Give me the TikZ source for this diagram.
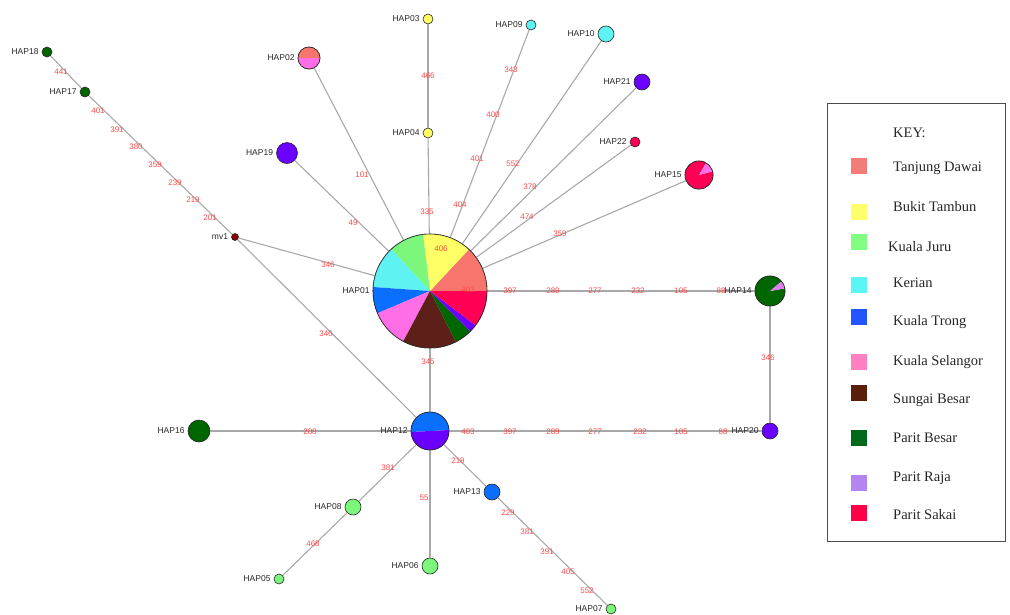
\documentclass[tikz,border=0pt]{standalone}
\usepackage{fontspec}
\setmainfont{Liberation Serif}
\setsansfont{Liberation Sans}
\definecolor{edgegray}{HTML}{A8A8A8}
\definecolor{mutred}{HTML}{FF4A4A}
\definecolor{csalmon}{HTML}{F8756E}
\definecolor{cyellow}{HTML}{FFFF66}
\definecolor{cgreen}{HTML}{7CF77C}
\definecolor{ccyan}{HTML}{5EF2F2}
\definecolor{cblue}{HTML}{0A6EFF}
\definecolor{cpink}{HTML}{FF6EE6}
\definecolor{cbrown}{HTML}{5C2018}
\definecolor{cdgreen}{HTML}{006600}
\definecolor{cviolet}{HTML}{6A00FF}
\definecolor{ccrimson}{HTML}{FF0055}
\definecolor{cmv}{HTML}{8B0000}
\definecolor{cpv}{HTML}{E080F0}
\definecolor{kSalmon}{HTML}{F47C78}
\definecolor{kYellow}{HTML}{FFFF6A}
\definecolor{kGreen}{HTML}{80FF80}
\definecolor{kCyan}{HTML}{5AF5F5}
\definecolor{kBlue}{HTML}{2255FF}
\definecolor{kPink}{HTML}{FF80C0}
\definecolor{kBrown}{HTML}{5A1E0A}
\definecolor{kDgreen}{HTML}{006A1A}
\definecolor{kLav}{HTML}{B484F0}
\definecolor{kCrimson}{HTML}{FF0048}
\newcommand\pslice[5]{\fill[#5] (#1.center) -- ++(#3:#2) arc[start angle=#3, end angle=#4, radius=#2] -- cycle;}
\begin{document}
\begin{tikzpicture}[x=1pt,y=1pt,
  edge/.style={draw=edgegray, line width=1.1pt},
  hap/.style={circle, draw=black!85, line width=0.6pt, inner sep=0pt, minimum size=#1},
  lab/.style={font=\sffamily\fontsize{8.5}{9}\selectfont, text=black!85, inner sep=1pt, anchor=east, xshift=-2pt},
  mut/.style={font=\sffamily\fontsize{8}{9}\selectfont, text=mutred, inner sep=0pt},
  keysq/.style={minimum size=16pt, inner sep=0pt},
  keytxt/.style={font=\fontsize{14.5}{16}\selectfont, anchor=west, inner sep=0pt, text=black!85}]
\useasboundingbox (0,0) rectangle (1010,-614);
% nodes
\node[hap=114pt] (HAP01) at (430,-291) {};
\node[hap=22pt] (HAP02) at (309,-58) {};
\node[hap=10pt, fill=cyellow] (HAP03) at (428,-19) {};
\node[hap=10pt, fill=cyellow] (HAP04) at (428,-133) {};
\node[hap=10pt, fill=cgreen] (HAP05) at (279,-579) {};
\node[hap=16pt, fill=cgreen] (HAP06) at (430,-566) {};
\node[hap=10pt, fill=cgreen] (HAP07) at (611,-609) {};
\node[hap=16pt, fill=cgreen] (HAP08) at (353,-507) {};
\node[hap=10pt, fill=ccyan] (HAP09) at (531,-25) {};
\node[hap=16pt, fill=ccyan] (HAP10) at (606,-34) {};
\node[hap=38pt] (HAP12) at (430,-431) {};
\node[hap=16pt, fill=cblue] (HAP13) at (492,-492) {};
\node[hap=30pt] (HAP14) at (770,-291) {};
\node[hap=28pt] (HAP15) at (699,-175) {};
\node[hap=22pt, fill=cdgreen] (HAP16) at (199,-431) {};
\node[hap=10pt, fill=cdgreen] (HAP17) at (85,-92) {};
\node[hap=10pt, fill=cdgreen] (HAP18) at (47,-52) {};
\node[hap=21pt, fill=cviolet] (HAP19) at (287,-153) {};
\node[hap=16pt, fill=cviolet] (HAP20) at (770,-431) {};
\node[hap=16pt, fill=cviolet] (HAP21) at (642,-82) {};
\node[hap=10pt, fill=ccrimson] (HAP22) at (635,-142) {};
\node[hap=7pt, fill=cmv] (mv1) at (235,-237) {};
% edges
\draw[edge] (HAP18) -- (HAP17);
\draw[edge] (HAP17) -- (mv1);
\draw[edge] (mv1) -- (HAP01);
\draw[edge] (mv1) -- (HAP12);
\draw[edge] (HAP19) -- (HAP01);
\draw[edge] (HAP02) -- (HAP01);
\draw[edge] (HAP03) -- (HAP04);
\draw[edge] (HAP04) -- (HAP01);
\draw[edge] (HAP09) -- (HAP01);
\draw[edge] (HAP10) -- (HAP01);
\draw[edge] (HAP21) -- (HAP01);
\draw[edge] (HAP22) -- (HAP01);
\draw[edge] (HAP15) -- (HAP01);
\draw[edge] (HAP01) -- (HAP14);
\draw[edge] (HAP14) -- (HAP20);
\draw[edge] (HAP12) -- (HAP20);
\draw[edge] (HAP01) -- (HAP12);
\draw[edge] (HAP16) -- (HAP12);
\draw[edge] (HAP12) -- (HAP08);
\draw[edge] (HAP08) -- (HAP05);
\draw[edge] (HAP12) -- (HAP06);
\draw[edge] (HAP12) -- (HAP13);
\draw[edge] (HAP13) -- (HAP07);
% pies
\pslice{HAP01}{57}{0}{47}{csalmon}
\pslice{HAP01}{57}{47}{97}{cyellow}
\pslice{HAP01}{57}{97}{133}{cgreen}
\pslice{HAP01}{57}{133}{176}{ccyan}
\pslice{HAP01}{57}{176}{203}{cblue}
\pslice{HAP01}{57}{203}{242}{cpink}
\pslice{HAP01}{57}{242}{297}{cbrown}
\pslice{HAP01}{57}{297}{315}{cdgreen}
\pslice{HAP01}{57}{315}{323}{cviolet}
\pslice{HAP01}{57}{323}{360}{ccrimson}
\draw[black!85, line width=0.6pt] (HAP01) circle[radius=57];
\pslice{HAP02}{11}{0}{180}{csalmon}
\pslice{HAP02}{11}{180}{360}{cpink}
\draw[black!85, line width=0.6pt] (HAP02) circle[radius=11];
\pslice{HAP12}{19}{3}{183}{cblue}
\pslice{HAP12}{19}{183}{363}{cviolet}
\draw[black!85, line width=0.6pt] (HAP12) circle[radius=19];
\pslice{HAP14}{15}{40}{370}{cdgreen}
\pslice{HAP14}{15}{10}{40}{cpv}
\draw[black!85, line width=0.6pt] (HAP14) circle[radius=15];
\pslice{HAP15}{14}{60}{375}{ccrimson}
\pslice{HAP15}{14}{15}{60}{cpink}
\draw[black!85, line width=0.6pt] (HAP15) circle[radius=14];
% haplotype labels
\node[lab] (L01) at (HAP01.west) {HAP01};
\node[lab] (L02) at (HAP02.west) {HAP02};
\node[lab] (L03) at (HAP03.west) {HAP03};
\node[lab] (L04) at (HAP04.west) {HAP04};
\node[lab] (L05) at (HAP05.west) {HAP05};
\node[lab] (L06) at (HAP06.west) {HAP06};
\node[lab] (L07) at (HAP07.west) {HAP07};
\node[lab] (L08) at (HAP08.west) {HAP08};
\node[lab] (L09) at (HAP09.west) {HAP09};
\node[lab] (L10) at (HAP10.west) {HAP10};
\node[lab] (L12) at (HAP12.west) {HAP12};
\node[lab] (L13) at (HAP13.west) {HAP13};
\node[lab] (L14) at (HAP14.west) {HAP14};
\node[lab] (L15) at (HAP15.west) {HAP15};
\node[lab] (L16) at (HAP16.west) {HAP16};
\node[lab] (L17) at (HAP17.west) {HAP17};
\node[lab] (L18) at (HAP18.west) {HAP18};
\node[lab] (L19) at (HAP19.west) {HAP19};
\node[lab] (L20) at (HAP20.west) {HAP20};
\node[lab] (L21) at (HAP21.west) {HAP21};
\node[lab] (L22) at (HAP22.west) {HAP22};
\node[lab] (Lmv) at (mv1.west) {mv1};
% mutation labels
\node[mut] (m1) at (61,-72) {441};
\node[mut] (m2) at (98,-111) {401};
\node[mut] (m3) at (117,-130) {391};
\node[mut] (m4) at (136,-147) {380};
\node[mut] (m5) at (155,-165) {359};
\node[mut] (m6) at (175,-183) {239};
\node[mut] (m7) at (193,-200) {219};
\node[mut] (m8) at (210,-218) {201};
\node[mut] (m9) at (328,-265) {346};
\node[mut] (m10) at (326,-334) {346};
\node[mut] (m11) at (353,-223) {49};
\node[mut] (m12) at (362,-175) {101};
\node[mut] (m13) at (428,-76) {466};
\node[mut] (m14) at (427,-212) {335};
\node[mut] (m15) at (511,-70) {343};
\node[mut] (m16) at (493,-115) {400};
\node[mut] (m17) at (477,-159) {401};
\node[mut] (m18) at (460,-205) {404};
\node[mut] (m19) at (441,-249) {406};
\node[mut] (m20) at (513,-164) {552};
\node[mut] (m21) at (530,-187) {378};
\node[mut] (m22) at (527,-217) {474};
\node[mut] (m23) at (560,-234) {359};
\node[mut] (m24) at (468,-290) {403};
\node[mut] (m25) at (510,-291) {397};
\node[mut] (m26) at (553,-291) {289};
\node[mut] (m27) at (595,-291) {277};
\node[mut] (m28) at (638,-291) {232};
\node[mut] (m29) at (681,-291) {105};
\node[mut] (m30) at (721,-291) {88};
\node[mut] (m31) at (768,-358) {346};
\node[mut] (m32) at (428,-362) {345};
\node[mut] (m33) at (468,-432) {403};
\node[mut] (m34) at (510,-432) {397};
\node[mut] (m35) at (553,-432) {289};
\node[mut] (m36) at (595,-432) {277};
\node[mut] (m37) at (640,-432) {232};
\node[mut] (m38) at (681,-432) {105};
\node[mut] (m39) at (723,-432) {88};
\node[mut] (m40) at (310,-432) {208};
\node[mut] (m41) at (388,-468) {381};
\node[mut] (m42) at (313,-544) {468};
\node[mut] (m43) at (424,-498) {55};
\node[mut] (m44) at (458,-461) {219};
\node[mut] (m45) at (508,-513) {229};
\node[mut] (m46) at (527,-532) {381};
\node[mut] (m47) at (547,-552) {391};
\node[mut] (m48) at (568,-572) {405};
\node[mut] (m49) at (587,-591) {552};
% legend
\draw[black!70, line width=0.8pt] (827,-103) rectangle (1005,-541);
\node[keytxt] (kt) at (893,-133) {KEY:};
\node[keysq, fill=kSalmon] (k1) at (859,-166) {};
\node[keytxt] (t1) at (893,-168) {Tanjung Dawai};
\node[keysq, fill=kYellow] (k2) at (859,-212) {};
\node[keytxt] (t2) at (893,-207) {Bukit Tambun};
\node[keysq, fill=kGreen] (k3) at (859,-242) {};
\node[keytxt] (t3) at (888,-247) {Kuala Juru};
\node[keysq, fill=kCyan] (k4) at (859,-285) {};
\node[keytxt] (t4) at (893,-283) {Kerian};
\node[keysq, fill=kBlue] (k5) at (859,-317) {};
\node[keytxt] (t5) at (893,-322) {Kuala Trong};
\node[keysq, fill=kPink] (k6) at (859,-362) {};
\node[keytxt] (t6) at (893,-362) {Kuala Selangor};
\node[keysq, fill=kBrown] (k7) at (859,-393) {};
\node[keytxt] (t7) at (893,-400) {Sungai Besar};
\node[keysq, fill=kDgreen] (k8) at (859,-438) {};
\node[keytxt] (t8) at (893,-438) {Parit Besar};
\node[keysq, fill=kLav] (k9) at (859,-483) {};
\node[keytxt] (t9) at (893,-478) {Parit Raja};
\node[keysq, fill=kCrimson] (k10) at (859,-513) {};
\node[keytxt] (t10) at (893,-515) {Parit Sakai};
\end{tikzpicture}
\end{document}
